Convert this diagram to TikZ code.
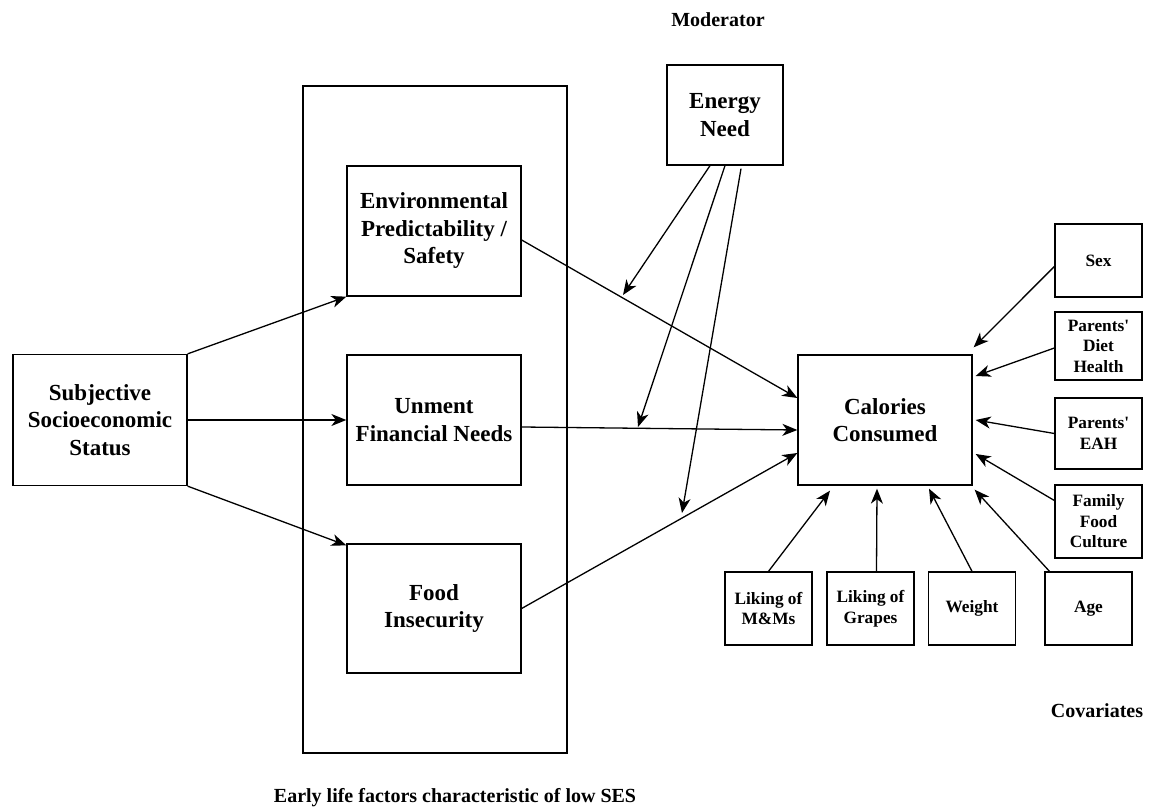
\documentclass[tikz,border=0pt]{standalone}
\usepackage{fontspec}
\setmainfont{Liberation Serif}
\usetikzlibrary{arrows.meta}
\begin{document}
\begin{tikzpicture}[x=1pt,y=-1pt,
 box/.style={draw, line width=1.3pt, align=center, font=\fontsize{23}{27.5}\selectfont\bfseries, inner sep=0pt},
 sbox/.style={draw, line width=1.3pt, align=center, font=\fontsize{17.3}{20.5}\selectfont\bfseries, inner sep=0pt, minimum width=87pt},
 arr/.style={line width=1.3pt, -{Stealth[length=15pt,width=12pt,inset=4.5pt]}},
 lbl/.style={font=\fontsize{20}{24}\selectfont\bfseries}]
\useasboundingbox (0,0) rectangle (1149,810);
\node[draw, line width=1.3pt, minimum width=264pt, minimum height=667pt, inner sep=0pt] (outer) at (435,419.5) {};
\node[box, minimum width=174pt, minimum height=131pt] (ses) at (100,420) {Subjective\\Socioeconomic\\Status};
\node[box, minimum width=174pt, minimum height=130pt] (env) at (434,231) {Environmental\\Predictability /\\Safety};
\node[box, minimum width=174pt, minimum height=130pt] (unmet) at (434,420) {Unment\\Financial Needs};
\node[box, minimum width=174pt, minimum height=129pt] (food) at (434,608.5) {Food\\Insecurity};
\node[box, minimum width=116pt, minimum height=100pt] (energy) at (725,115) {Energy\\Need};
\node[box, minimum width=174pt, minimum height=130pt] (cal) at (885,420) {Calories\\Consumed};
\node[sbox, minimum height=73pt] (sex) at (1098.5,260.5) {Sex};
\node[sbox, minimum height=68pt] (pdh) at (1098.5,346) {Parents\textquotesingle\\Diet\\Health};
\node[sbox, minimum height=71pt] (eah) at (1098.5,433.5) {Parents\textquotesingle\\EAH};
\node[sbox, minimum height=73pt] (ffc) at (1098.5,521.5) {Family\\Food\\Culture};
\node[sbox, minimum height=73pt] (mm) at (768.5,608.5) {Liking of\\M\&Ms};
\node[sbox, minimum height=73pt] (gr) at (870.5,608.5) {Liking of\\Grapes};
\node[sbox, minimum height=73pt] (wt) at (972,608.5) {Weight};
\node[sbox, minimum height=73pt] (age) at (1088.5,608.5) {Age};
\node[lbl] (mod) at (718,20) {Moderator};
\node[lbl] (cov) at (1097,711) {Covariates};
\node[lbl] (early) at (455,798) {Early life factors characteristic of low SES};
\coordinate (m1) at (623,295);
\coordinate (m2) at (638,427);
\coordinate (m3) at (682,513);
% SES arrows
\draw[arr] (ses.north east) -- (env.south west);
\draw[arr] (ses.east) -- (unmet.west);
\draw[arr] (ses.south east) -- ([yshift=-2pt]food.north west);
% to calories
\draw[arr] ([yshift=-9pt]env.east) -- ([yshift=22pt]cal.west);
\draw[arr] ([yshift=-7pt]unmet.east) -- ([yshift=-10pt]cal.west);
\draw[arr] (food.east) -- ([yshift=-33pt]cal.west);
% moderator
\draw[arr] ([xshift=-15pt]energy.south) -- (m1);
\draw[arr] (energy.south) -- (m2);
\draw[arr] ([xshift=16pt,yshift=-3pt]energy.south) -- (m3);
% covariates right
\draw[arr] ([yshift=-6pt]sex.west) -- ([xshift=1pt,yshift=7pt]cal.north east);
\draw[arr] ([yshift=-2pt]pdh.west) -- ([xshift=3pt,yshift=44pt]cal.east);
\draw[arr] (eah.west) -- ([xshift=3pt]cal.east);
\draw[arr] ([yshift=21pt]ffc.west) -- ([xshift=3pt,yshift=-34pt]cal.east);
% covariates bottom
\draw[arr] (mm.north) -- ([xshift=-55pt,yshift=-5pt]cal.south);
\draw[arr] ([xshift=6pt]gr.north) -- ([xshift=-8pt,yshift=-3pt]cal.south);
\draw[arr] (wt.north) -- ([xshift=44pt,yshift=-3pt]cal.south);
\draw[arr] ([xshift=-39pt]age.north) -- ([xshift=2pt,yshift=-4pt]cal.south east);
\end{tikzpicture}
\end{document}
